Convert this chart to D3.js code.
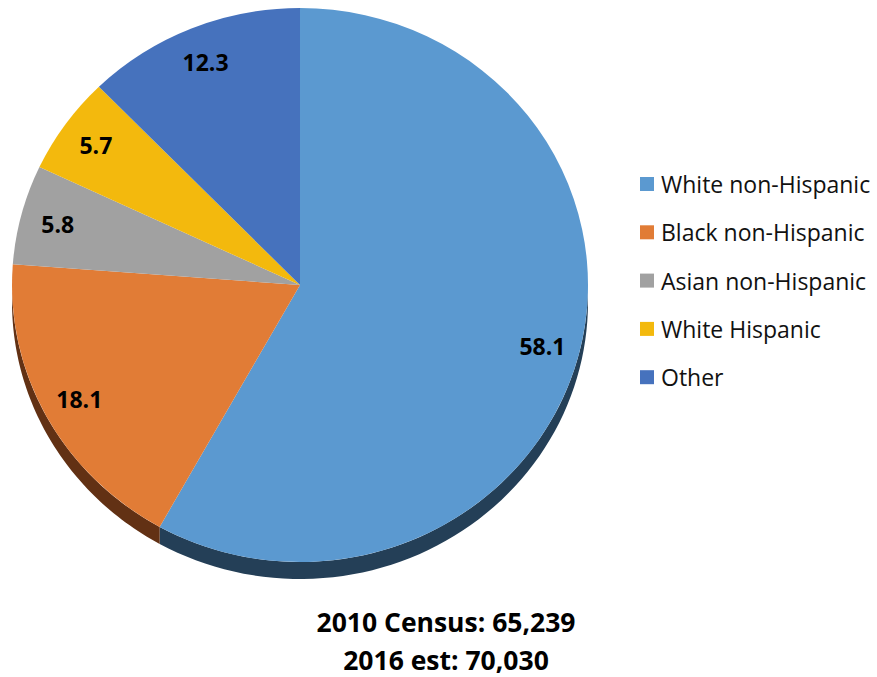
<!DOCTYPE html>
<html><head><meta charset="utf-8">
<script src="https://cdn.jsdelivr.net/npm/d3@7"></script>
<style>body{margin:0;background:#fff}svg{display:block}</style>
</head><body>
<svg id="c" width="877" height="677"></svg>
<script>
const categories = ["White non-Hispanic","Black non-Hispanic","Asian non-Hispanic","White Hispanic","Other"];
const values = [58.1, 18.1, 5.8, 5.7, 12.3];
const colors = ["#5B99D0","#E17C36","#A1A1A1","#F3B90D","#4672BD"];
const sideColors = ["#243F57","#623114","#5a5a5a","#8a6a08","#27406b"];
const footer = ["2010 Census: 65,239","2016 est: 70,030"];

const svg = d3.select("#c");
const cx = 300, cy = 285, rx = 288, ry = 277, depth = 17;
const data = categories.map((c,i)=>({cat:c, value:values[i], color:colors[i], side:sideColors[i]}));
const pie = d3.pie().sort(null).value(d=>d.value);
const arcs = pie(data);

const px = a => cx + rx*Math.sin(a);
const py = (a,off=0) => cy - ry*Math.cos(a) + off;

const sideG = svg.append("g");
arcs.forEach(a=>{
  const s = Math.max(a.startAngle, Math.PI/2), e = Math.min(a.endAngle, 3*Math.PI/2);
  if (e <= s) return;
  const n = 60, pts = [];
  for (let i=0;i<=n;i++){ const t=s+(e-s)*i/n; pts.push([px(t),py(t)]); }
  for (let i=n;i>=0;i--){ const t=s+(e-s)*i/n; pts.push([px(t),py(t,depth)]); }
  sideG.append("path").attr("d", d3.line()(pts)+"Z").attr("fill", a.data.side);
});

const arc = d3.arc().innerRadius(0).outerRadius(rx);
const topG = svg.append("g").attr("transform",`translate(${cx},${cy}) scale(1,${ry/rx})`);
topG.selectAll("path").data(arcs).join("path")
  .attr("d", arc).attr("fill", d=>d.data.color);

const lf = 0.87;
svg.append("g").selectAll("text").data(arcs).join("text")
  .attr("x", d=>{const m=(d.startAngle+d.endAngle)/2; return cx + lf*rx*Math.sin(m);})
  .attr("y", d=>{const m=(d.startAngle+d.endAngle)/2; return cy - lf*ry*Math.cos(m);})
  .attr("text-anchor","middle").attr("dominant-baseline","central")
  .attr("font-family","'Open Sans', sans-serif").attr("font-weight","bold").attr("font-size",23)
  .attr("fill","#000").text(d=>d.data.value.toFixed(1));

const lg = svg.append("g").attr("transform","translate(640,184)");
const rows = lg.selectAll("g").data(data).join("g").attr("transform",(d,i)=>`translate(0,${i*48.3})`);
rows.append("rect").attr("x",0).attr("y",-7).attr("width",14).attr("height",14).attr("fill",d=>d.color);
rows.append("text").attr("x",21).attr("y",0).attr("dominant-baseline","central")
  .attr("font-family","'Open Sans', sans-serif").attr("font-size",23).attr("fill","#111")
  .text(d=>d.cat);

svg.append("g").selectAll("text").data(footer).join("text")
  .attr("x",446).attr("y",(d,i)=>622+i*38).attr("text-anchor","middle").attr("dominant-baseline","central")
  .attr("font-family","'Open Sans', sans-serif").attr("font-weight","bold").attr("font-size",26.5)
  .attr("fill","#000").text(d=>d);
</script>
</body></html>
